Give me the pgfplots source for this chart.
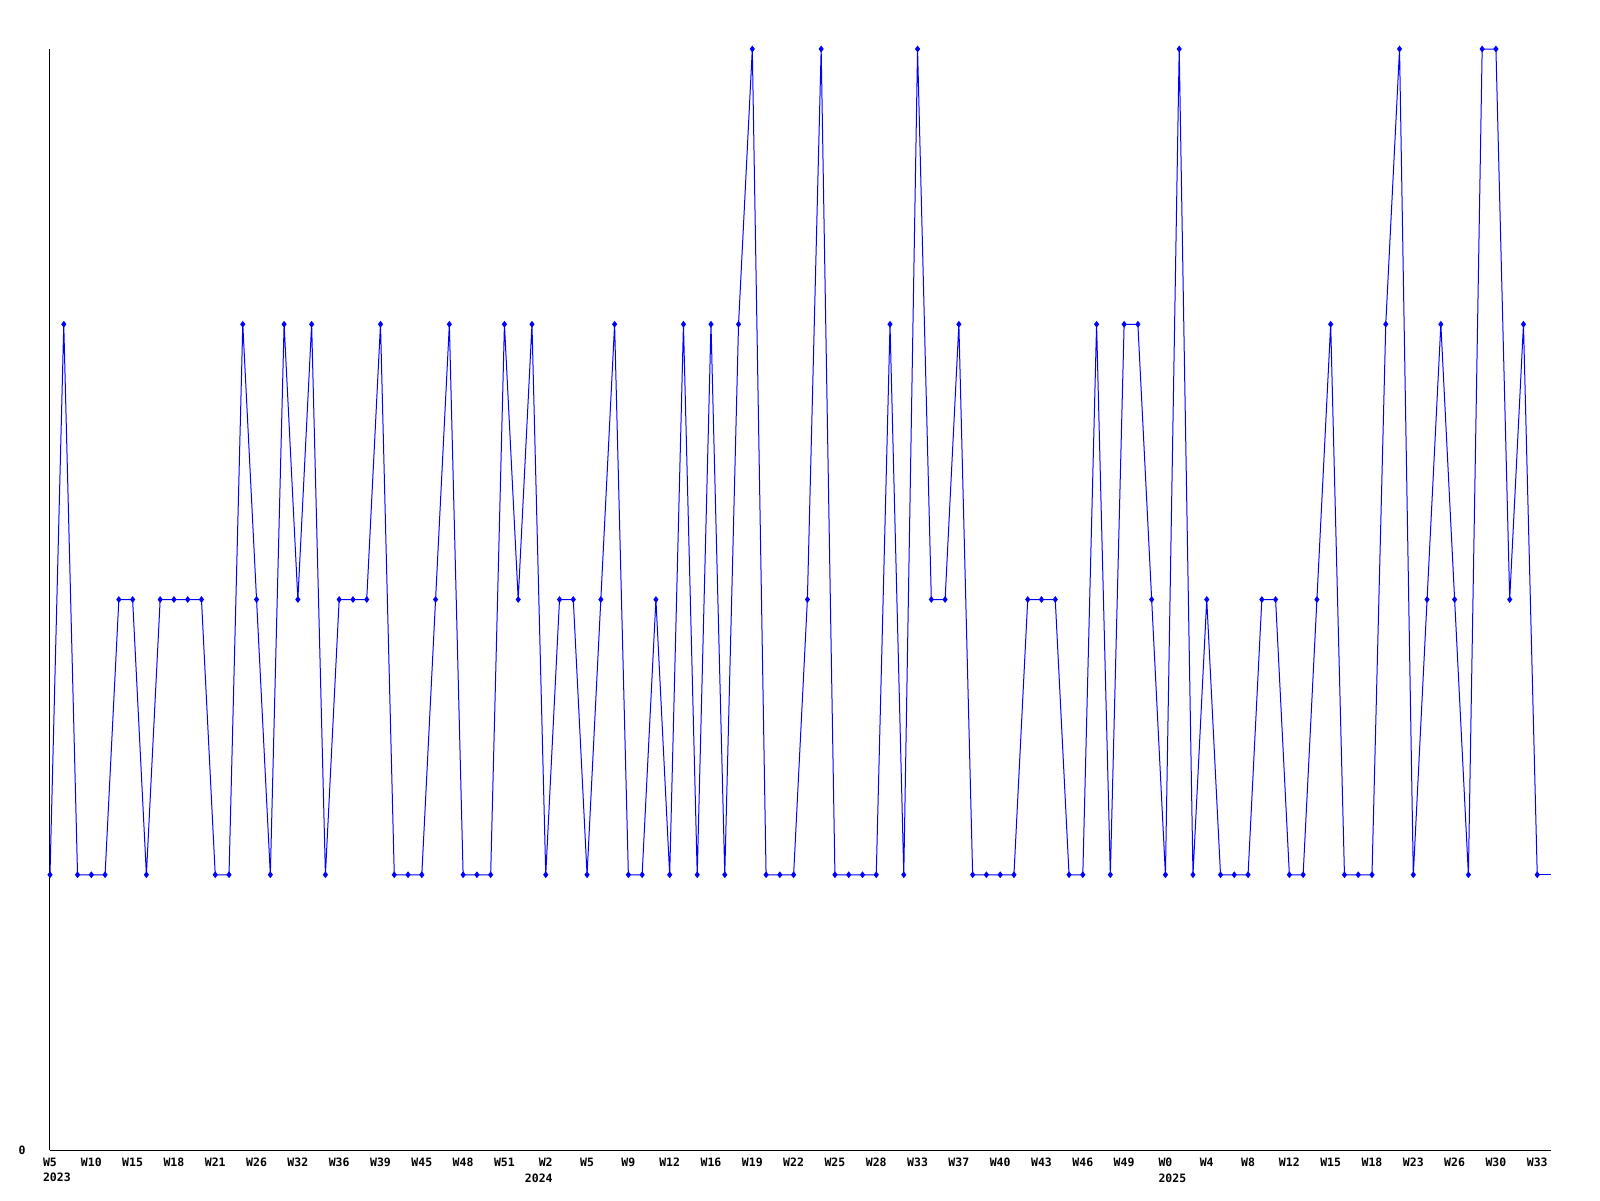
\documentclass[border=0pt]{standalone}
\usepackage{pgfplots}
\pgfplotsset{compat=1.18}
\usepackage{fontspec}
\newfontfamily\lf{DejaVu Sans Mono}
\begin{document}
\begin{tikzpicture}[x=1pt,y=1pt]
\path[use as bounding box] (0,0) rectangle (800,600);
\begin{axis}[
  at={(25pt,25pt)}, anchor=south west,
  scale only axis, width=750.5pt, height=550.5pt,
  xmin=0, xmax=109, ymin=0, ymax=4,
  axis x line=bottom, axis y line=left,
  axis line style={-, black, line width=0.5pt},
  major tick length=0pt,
  ytick={0},
  /pgf/number format/assume math mode=true,
  xtick={0,3,...,108},
  xticklabels={
    {W5\\\makebox[0pt][l]{2023}\hphantom{W5}},W10,W15,W18,W21,W26,W32,W36,W39,W45,W48,W51,
    {W2\\\hphantom{W2}\makebox[0pt][r]{2024}},W5,W9,W12,W16,W19,W22,W25,W28,W33,W37,W40,W43,W46,W49,
    {W0\\\makebox[0pt][l]{2025}\hphantom{W0}},W4,W8,W12,W15,W18,W23,W26,W30,W33},
  tick label style={font=\lf\bfseries\fontsize{5.75}{7.8}\selectfont},
  xticklabel style={align=left, inner sep=0pt, yshift=-3.8pt},
  yticklabel style={inner sep=0pt, xshift=-12pt},
  clip=false,
]
\addplot[blue, line width=0.5pt, mark=diamond*, mark size=1.3pt, mark options={solid}] coordinates {
(0,1)(1,3)(2,1)(3,1)(4,1)(5,2)(6,2)(7,1)(8,2)(9,2)(10,2)(11,2)(12,1)(13,1)(14,3)(15,2)(16,1)(17,3)(18,2)(19,3)
(20,1)(21,2)(22,2)(23,2)(24,3)(25,1)(26,1)(27,1)(28,2)(29,3)(30,1)(31,1)(32,1)(33,3)(34,2)(35,3)(36,1)(37,2)(38,2)(39,1)
(40,2)(41,3)(42,1)(43,1)(44,2)(45,1)(46,3)(47,1)(48,3)(49,1)(50,3)(51,4)(52,1)(53,1)(54,1)(55,2)(56,4)(57,1)(58,1)(59,1)
(60,1)(61,3)(62,1)(63,4)(64,2)(65,2)(66,3)(67,1)(68,1)(69,1)(70,1)(71,2)(72,2)(73,2)(74,1)(75,1)(76,3)(77,1)(78,3)(79,3)
(80,2)(81,1)(82,4)(83,1)(84,2)(85,1)(86,1)(87,1)(88,2)(89,2)(90,1)(91,1)(92,2)(93,3)(94,1)(95,1)(96,1)(97,3)(98,4)(99,1)
(100,2)(101,3)(102,2)(103,1)(104,4)(105,4)(106,2)(107,3)(108,1)
};
\addplot[blue, line width=0.5pt, no marks] coordinates {(108,1)(109,1)};
\end{axis}
\end{tikzpicture}
\end{document}
